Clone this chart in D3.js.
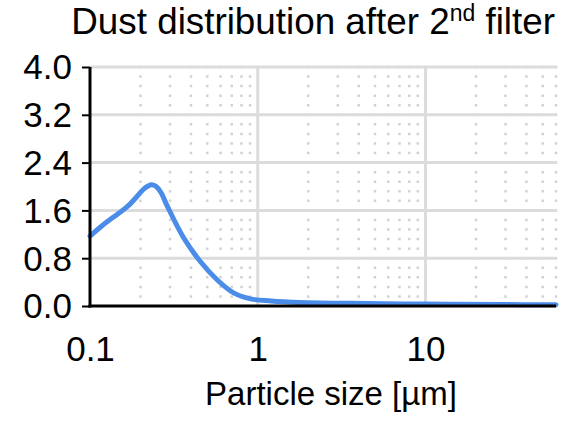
<!DOCTYPE html>
<html>
<head>
<meta charset="utf-8">
<script src="https://cdn.jsdelivr.net/npm/d3@7/dist/d3.min.js"></script>
<style>
  html, body { margin: 0; padding: 0; background: #fff; }
  svg { display: block; font-family: "Liberation Sans", Arial, sans-serif; }
</style>
</head>
<body>
<svg id="chart" width="582" height="432"></svg>
<script>
// Particle size (µm) and dust distribution density
const sizes = [0.1, 0.1175, 0.1477, 0.168, 0.186, 0.2076, 0.222, 0.234, 0.248, 0.265, 0.288, 0.36, 0.456, 0.574, 0.718, 0.908, 1.2, 1.8, 3.6, 7.2, 14, 28, 60];
const density = [1.17, 1.34, 1.55, 1.67, 1.80, 1.95, 2.01, 2.03, 2.0, 1.9, 1.68, 1.15, 0.74, 0.435, 0.22, 0.12, 0.085, 0.06, 0.045, 0.035, 0.03, 0.025, 0.02];

const yTicks = [0, 0.8, 1.6, 2.4, 3.2, 4.0];
const xMajor = [0.1, 1, 10];
const xMinor = [0.2, 0.3, 0.4, 0.5, 0.6, 0.7, 0.8, 0.9, 2, 3, 4, 5, 6, 7, 8, 9, 20, 30, 40, 50, 60];

const svg = d3.select("#chart");
const plotL = 90, plotR = 556, plotT = 67, plotB = 306;
const FONT = "Liberation Sans, Arial, sans-serif";

const x = d3.scaleLog().domain([0.1, 60]).range([plotL, plotR]);
const y = d3.scaleLinear().domain([0, 4]).range([plotB, plotT]);

// minor dotted gridlines (dot period = one fifth of a major row)
const period = (plotB - plotT) / 25;
svg.append("g").selectAll("line").data(xMinor).join("line")
  .attr("x1", d => x(d)).attr("x2", d => x(d))
  .attr("y1", plotT - 1.25).attr("y2", plotB - 2)
  .attr("stroke", "#d2d2d2").attr("stroke-width", 2.5)
  .attr("stroke-dasharray", `2.5,${(period - 2.5).toFixed(2)}`);

// horizontal gridlines
svg.append("g").selectAll("line").data(yTicks.filter(d => d > 0)).join("line")
  .attr("x1", plotL).attr("x2", plotR)
  .attr("y1", d => y(d)).attr("y2", d => y(d))
  .attr("stroke", "#dcdcdc").attr("stroke-width", 3);

// major vertical gridlines
svg.append("g").selectAll("line").data(xMajor.filter(d => d > 0.1)).join("line")
  .attr("x1", d => x(d)).attr("x2", d => x(d))
  .attr("y1", plotT).attr("y2", plotB)
  .attr("stroke", "#dcdcdc").attr("stroke-width", 3);

// distribution curve
const line = d3.line()
  .x((d, i) => x(sizes[i]))
  .y(d => y(d))
  .curve(d3.curveCatmullRom.alpha(0.5));
svg.append("path").datum(density)
  .attr("d", line)
  .attr("fill", "none")
  .attr("stroke", "#4a8ce8")
  .attr("stroke-width", 5)
  .attr("stroke-linejoin", "round")
  .attr("stroke-linecap", "round");

// y axis
const yAxis = d3.axisLeft(y).tickValues(yTicks).tickFormat(d3.format(".1f"))
  .tickSize(8).tickPadding(10);
const gy = svg.append("g").attr("transform", `translate(${plotL},0)`).call(yAxis);
gy.select(".domain").remove();
gy.selectAll(".tick line").attr("stroke", "#000").attr("stroke-width", 2);
gy.selectAll(".tick text").attr("font-size", 35).attr("fill", "#000")
  .attr("font-family", FONT).attr("dy", "0.34em");

// x axis labels
const xAxis = d3.axisBottom(x).tickValues(xMajor).tickFormat(d3.format("~g"))
  .tickSize(0).tickPadding(30);
const gx = svg.append("g").attr("transform", `translate(0,${plotB})`).call(xAxis);
gx.select(".domain").remove();
gx.selectAll(".tick text").attr("font-size", 35).attr("fill", "#000")
  .attr("font-family", FONT);

// axis lines
svg.append("line").attr("x1", plotL).attr("x2", plotL).attr("y1", plotT).attr("y2", plotB + 1.5)
  .attr("stroke", "#000").attr("stroke-width", 3);
svg.append("line").attr("x1", plotL - 1.5).attr("x2", plotR).attr("y1", plotB).attr("y2", plotB)
  .attr("stroke", "#000").attr("stroke-width", 3);

// axis title
svg.append("text").attr("x", 331).attr("y", 405).attr("text-anchor", "middle")
  .attr("font-size", 33).attr("fill", "#000").text("Particle size [µm]");

// chart title
const title = svg.append("text").attr("x", 555).attr("y", 34).attr("text-anchor", "end")
  .attr("font-size", 36.8).attr("fill", "#000");
title.append("tspan").text("Dust distribution after 2");
title.append("tspan").attr("font-size", 23).attr("dy", -13).text("nd");
title.append("tspan").attr("dy", 13).text(" filter");
</script>
</body>
</html>
